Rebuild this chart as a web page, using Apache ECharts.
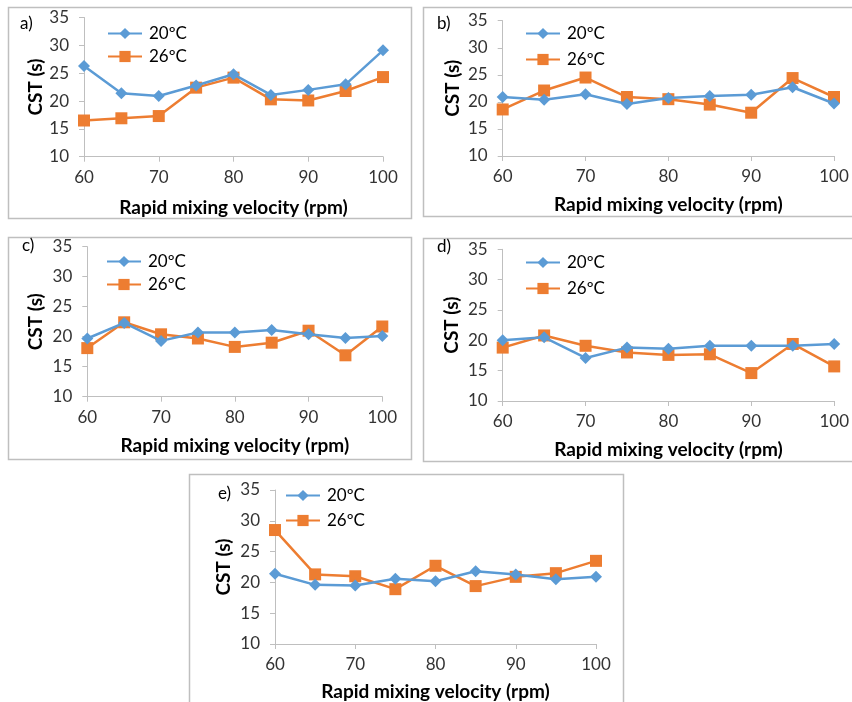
<!DOCTYPE html>
<html>
<head>
<meta charset="utf-8">
<script src="https://cdn.jsdelivr.net/npm/echarts@6/dist/echarts.min.js"></script>
<style>html,body{margin:0;padding:0;background:#fff;}#c{width:852px;height:702px;}</style>
</head>
<body>
<div id="c"></div>
<script>
// ---- data ----
const velocities = [60, 65, 70, 75, 80, 85, 90, 95, 100];
const xTicks = [60, 70, 80, 90, 100];
const yTicks = [10, 15, 20, 25, 30, 35];
const seriesNames = ['20ºC', '26ºC'];
const panelLabels = ['a)', 'b)', 'c)', 'd)', 'e)'];
const a20 = [26.3, 21.4, 20.9, 22.8, 24.8, 21.1, 22.0, 23.0, 29.1];
const a26 = [16.5, 16.9, 17.3, 22.4, 24.2, 20.3, 20.1, 21.8, 24.3];
const b20 = [20.9, 20.4, 21.4, 19.6, 20.7, 21.1, 21.3, 22.7, 19.7];
const b26 = [18.6, 22.1, 24.5, 20.9, 20.5, 19.5, 18.0, 24.4, 20.9];
const c20 = [19.7, 22.3, 19.3, 20.7, 20.7, 21.1, 20.4, 19.8, 20.1];
const c26 = [18.1, 22.4, 20.4, 19.7, 18.3, 19.0, 21.0, 16.9, 21.7];
const d20 = [20.0, 20.5, 17.1, 18.8, 18.6, 19.1, 19.1, 19.1, 19.4];
const d26 = [18.8, 20.8, 19.1, 18.0, 17.6, 17.7, 14.6, 19.4, 15.7];
const e20 = [21.4, 19.6, 19.5, 20.6, 20.2, 21.8, 21.3, 20.5, 20.9];
const e26 = [28.5, 21.3, 21.0, 18.9, 22.7, 19.4, 20.9, 21.5, 23.5];
const panelData = [[a20, a26], [b20, b26], [c20, c26], [d20, d26], [e20, e26]];
const xTitle = 'Rapid mixing velocity (rpm)';
const yTitle = 'CST (s)';

// ---- layout (positions/styles only) ----
const layout = [
  {grid:[84,17.5,299,139.2],  box:[8,7,403,211],   lab:[20,25],  leg:[107,25,6],  xg:42, yg:39},
  {grid:[502.7,20.7,331.3,135.3], box:[423,7,440,209], lab:[437,25], leg:[525,25,9], xg:39, yg:40},
  {grid:[87.3,246.7,295,150], box:[8,237,403,222], lab:[22,247], leg:[106,253,6], xg:40, yg:42},
  {grid:[502.7,249.3,331.6,151.7], box:[423,238,440,223], lab:[437,248], leg:[525,254,9], xg:39, yg:41},
  {grid:[275,490,321,156.7], box:[189,474,434,240], lab:[218,495], leg:[285,487,8], xg:38, yg:42}
];
const colors = ['#5B9BD5', '#ED7D31'];
const symbols = ['diamond', 'rect'];
const symSizes = [12, 12];
const FONT = 'Lato';

const grids = [], xAxes = [], yAxes = [], series = [], legends = [], graphics = [];
layout.forEach((L, i) => {
  graphics.push({type:'rect', shape:{x:L.box[0]+0.5, y:L.box[1]+0.5, width:L.box[2], height:L.box[3]},
    style:{fill:'none', stroke:'#bfbfbf', lineWidth:1.5}, silent:true, z:-1});
  graphics.push({type:'text', left:L.lab[0], top:L.lab[1]-10,
    style:{text:panelLabels[i], font:'17px ' + FONT, fill:'#000'}});
  grids.push({left:L.grid[0], top:L.grid[1], width:L.grid[2], height:L.grid[3], containLabel:false});
  xAxes.push({type:'value', gridIndex:i, min:xTicks[0], max:xTicks[xTicks.length-1], interval:xTicks[1]-xTicks[0],
    name:xTitle, nameLocation:'middle', nameGap:L.xg,
    nameTextStyle:{fontFamily:FONT, fontWeight:'bold', fontSize:19, color:'#000'},
    axisLine:{lineStyle:{color:'#bfbfbf', width:1}}, axisTick:{show:true, length:5, lineStyle:{color:'#bfbfbf'}},
    splitLine:{show:false}, axisLabel:{fontFamily:FONT, fontSize:17, color:'#333', margin:12}});
  yAxes.push({type:'value', gridIndex:i, min:yTicks[0], max:yTicks[yTicks.length-1], interval:yTicks[1]-yTicks[0],
    name:yTitle, nameLocation:'middle', nameGap:L.yg, nameRotate:90,
    nameTextStyle:{fontFamily:FONT, fontWeight:'bold', fontSize:19, color:'#000'},
    axisLine:{show:true, lineStyle:{color:'#bfbfbf', width:1}}, axisTick:{show:true, length:5, lineStyle:{color:'#bfbfbf'}},
    splitLine:{show:false}, axisLabel:{fontFamily:FONT, fontSize:17, color:'#333', margin:15}});
  legends.push({orient:'vertical', left:L.leg[0], top:L.leg[1], itemGap:L.leg[2], itemWidth:34, itemHeight:14,
    padding:0, selectedMode:false, data:seriesNames,
    textStyle:{fontFamily:FONT, fontSize:17, color:'#000', padding:[0,0,0,2]}});
  panelData[i].forEach((vals, s) => {
    series.push({type:'line', name:seriesNames[s], xAxisIndex:i, yAxisIndex:i,
      data: velocities.map((v, k) => [v, vals[k]]),
      symbol:symbols[s], symbolSize:symSizes[s], showAllSymbol:true,
      lineStyle:{color:colors[s], width:2.5}, itemStyle:{color:colors[s]},
      animation:false, z: s===0 ? 3 : 2});
  });
});

const chart = echarts.init(document.getElementById('c'), null, {renderer:'canvas'});
chart.setOption({
  backgroundColor:'#fff', animation:false,
  grid:grids, xAxis:xAxes, yAxis:yAxes, series:series, legend:legends, graphic:graphics
});
</script>
</body>
</html>
